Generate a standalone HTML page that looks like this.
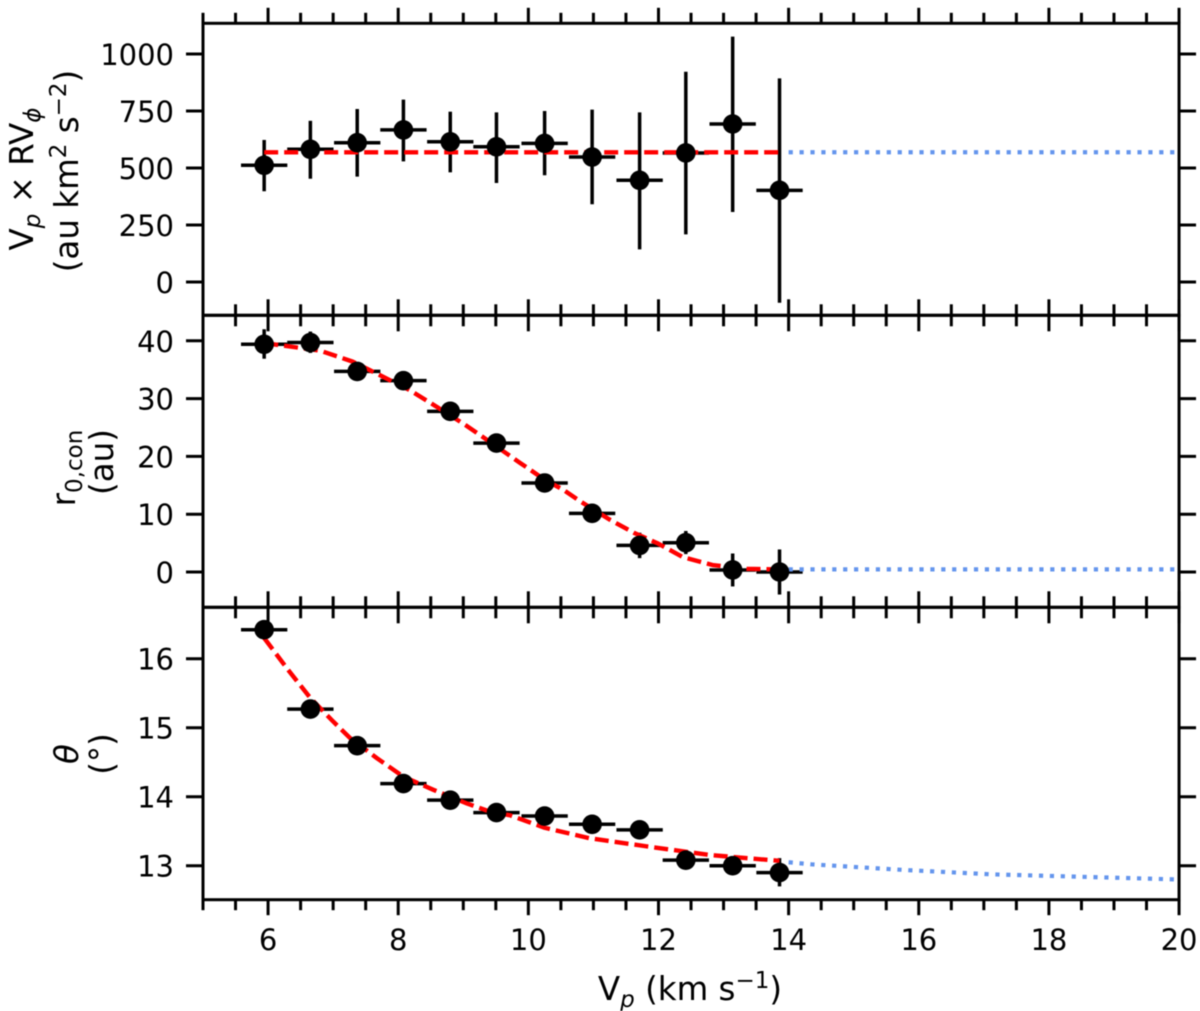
<!DOCTYPE html>
<html lang="en">
<head>
<meta charset="utf-8">
<title>Vp panels</title>
<style>
html,body{margin:0;padding:0;background:#fff;}
body{width:1200px;height:1011px;overflow:hidden;}
svg{display:block;font-family:"DejaVu Sans","Liberation Sans",sans-serif;fill:#000;filter:blur(0.55px);}
text{font-size:29px;}
.title{font-size:32.5px;}
</style>
</head>
<body>
<svg id="chart" width="1200" height="1011" viewBox="0 0 1200 1011" xmlns="http://www.w3.org/2000/svg">
  <g id="grid-layer"></g>
  <g id="marks-layer"></g>

  <text class="title" transform="translate(33,179) rotate(-90)" text-anchor="middle">V<tspan font-style="italic" font-size="23" dy="7">p</tspan><tspan dy="-7"> × RV</tspan><tspan font-style="italic" font-size="23" dy="7">ϕ</tspan></text>
  <text class="title" transform="translate(78,171) rotate(-90)" text-anchor="middle">(au km<tspan font-size="23" dy="-12">2</tspan><tspan dy="12"> s</tspan><tspan font-size="23" dy="-12">−2</tspan><tspan dy="12">)</tspan></text>
  <text class="title" transform="translate(75,468) rotate(-90)" text-anchor="middle">r<tspan font-size="23" dy="7">0,con</tspan></text>
  <text class="title" transform="translate(113,462) rotate(-90)" text-anchor="middle">(au)</text>
  <text class="title" transform="translate(78,754) rotate(-90)" text-anchor="middle" font-style="italic">θ</text>
  <text class="title" transform="translate(113,754) rotate(-90)" text-anchor="middle">(°)</text>
  <text class="title" x="690" y="1000" text-anchor="middle">V<tspan font-style="italic" font-size="23" dy="7">p</tspan><tspan dy="-7"> (km s</tspan><tspan font-size="23" dy="-12">−1</tspan><tspan dy="12">)</tspan></text>
</svg>

<script>
// Shared x positions of the measured points (km/s)
const vpPoints = [5.94, 6.65, 7.37, 8.08, 8.80, 9.51, 10.25, 10.98, 11.71, 12.42, 13.14, 13.86];
const vpHalfWidth = [0.356, 0.356, 0.356, 0.356, 0.356, 0.356, 0.356, 0.356, 0.356, 0.356, 0.356, 0.356];

// Top panel: Vp x RVphi
const topValues = [512, 582, 611, 667, 615, 593, 608, 548, 446, 566, 693, 402];
const topUpper  = [623, 707, 759, 800, 747, 744, 750, 756, 744, 922, 1076, 893];
const topLower  = [398, 453, 462, 529, 481, 434, 468, 341, 143, 209, 307, -91];
const topFitX   = [5.94, 13.86];
const topFitY   = [569, 569];
const topExtX   = [14.0, 20];
const topExtY   = [569, 569];
const topTicks  = [0, 250, 500, 750, 1000];

// Middle panel: r0,con
const midValues = [39.4, 39.7, 34.7, 33.1, 27.8, 22.3, 15.4, 10.15, 4.6, 5.07, 0.35, 0.0];
const midUpper  = [42.0, 41.6, 36.0, 34.3, 29.0, 23.5, 16.6, 11.3, 6.8, 7.1, 3.2, 3.9];
const midLower  = [36.9, 37.9, 33.4, 31.9, 26.6, 21.1, 14.2, 9.0, 2.4, 3.1, -2.5, -3.9];
const midFitX   = [5.94, 6.08, 6.80, 7.30, 7.71, 8.17, 8.59, 9.05, 9.41, 9.87, 10.26, 10.54, 10.80, 11.26, 11.62, 11.98, 12.37, 12.83, 13.36, 13.86];
const midFitY   = [39.4, 39.4, 38.3, 36.4, 34.1, 31.5, 28.6, 25.3, 22.5, 18.9, 15.9, 14.2, 12.2, 9.0, 6.8, 5.0, 2.6, 1.2, 0.55, 0.45];
const midExtX   = [14.0, 20];
const midExtY   = [0.45, 0.45];
const midTicks  = [0, 10, 20, 30, 40];

// Bottom panel: theta
const botValues = [16.42, 15.27, 14.74, 14.19, 13.95, 13.77, 13.72, 13.60, 13.52, 13.08, 13.00, 12.90];
const botUpper  = [16.52, 15.37, 14.84, 14.29, 14.05, 13.87, 13.82, 13.70, 13.62, 13.18, 13.10, 13.11];
const botLower  = [16.32, 15.17, 14.64, 14.09, 13.85, 13.67, 13.62, 13.50, 13.42, 12.98, 12.90, 12.70];
const botFitX   = [5.94, 6.29, 6.65, 7.00, 7.26, 7.67, 8.08, 8.54, 9.06, 9.42, 9.72, 10.25, 10.93, 11.82, 12.79, 13.86];
const botFitY   = [16.30, 15.86, 15.43, 15.09, 14.85, 14.56, 14.29, 14.10, 13.90, 13.78, 13.73, 13.55, 13.40, 13.28, 13.155, 13.07];
const botExtX   = [14.0, 14.35, 15.74, 17.12, 18.48, 20];
const botExtY   = [13.05, 13.02, 12.94, 12.875, 12.84, 12.80];
const botTicks  = [13, 14, 15, 16];

// Shared x axis ticks
const xMajorTicks = [6, 8, 10, 12, 14, 16, 18, 20];
const xMinorTicks = [5, 5.5, 6.5, 7, 7.5, 8.5, 9, 9.5, 10.5, 11, 11.5, 12.5, 13, 13.5, 14.5, 15, 15.5, 16.5, 17, 17.5, 18.5, 19, 19.5];

// Axis functions
function xAxis(v) { return 203 + (v - 5) * 65.07; }
function yTop(v) { return 282 - v * 0.228; }
function yMid(v) { return 572 - v * 5.78; }
function yBot(v) { return 865.7 - (v - 13) * 69; }

const NS = 'http://www.w3.org/2000/svg';
const frameLayer = document.getElementById('grid-layer');
const marksLayer = document.getElementById('marks-layer');

function shape(parent, tag, attrs, name) {
  const el = document.createElementNS(NS, tag);
  for (const k in attrs) el.setAttribute(k, attrs[k]);
  
  
  parent.appendChild(el);
  return el;
}

function seg(parent, x1, y1, x2, y2, w, name) {
  return shape(parent, 'line', { x1: x1, y1: y1, x2: x2, y2: y2, stroke: '#000', 'stroke-width': w }, name);
}

const TICK_W = 3;
const BAR_W = 3.5;
const LEFT = xAxis(5);
const RIGHT = xAxis(20);
const EDGE_TOP = 23.3;
const EDGE_A = 315.3;
const EDGE_B = 607.3;
const EDGE_C = 899.7;

function drawFrame(top, bottom, name) {
  shape(frameLayer, 'rect', { x: LEFT, y: top, width: RIGHT - LEFT, height: bottom - top, fill: 'none', stroke: '#000', 'stroke-width': 3 }, name);
}

function drawXTicks(y, above, below, label) {
  xMajorTicks.forEach(function (v) {
    seg(frameLayer, xAxis(v), y - above[0], xAxis(v), y + below[0], TICK_W, label + '-major-tick');
  });
  xMinorTicks.forEach(function (v) {
    seg(frameLayer, xAxis(v), y - above[1], xAxis(v), y + below[1], TICK_W, label + '-minor-tick');
  });
}

function drawYTicks(ticks, scale, label) {
  ticks.forEach(function (v) {
    const y = scale(v);
    seg(frameLayer, LEFT - 17, y, LEFT, y, TICK_W, label + '-left-tick');
    seg(frameLayer, RIGHT, y, RIGHT + 17, y, TICK_W, label + '-right-tick');
    const t = shape(frameLayer, 'text', { x: 174, y: y + 11, 'text-anchor': 'end' }, label + '-tick-label');
    t.textContent = String(v);
  });
}

function pathFrom(xs, ys, scale) {
  return xs.map(function (x, i) {
    return (i ? 'L' : 'M') + xAxis(x).toFixed(2) + ' ' + scale(ys[i]).toFixed(2);
  }).join(' ');
}

function drawPanel(values, upper, lower, fitX, fitY, extX, extY, scale, label) {
  vpPoints.forEach(function (x, i) {
    seg(marksLayer, xAxis(x), scale(upper[i]), xAxis(x), scale(lower[i]), BAR_W, label + '-y-error-bar');
    seg(marksLayer, xAxis(x - vpHalfWidth[i]), scale(values[i]), xAxis(x + vpHalfWidth[i]), scale(values[i]), BAR_W, label + '-x-error-bar');
  });
  shape(marksLayer, 'path', { d: pathFrom(extX, extY, scale), fill: 'none', stroke: '#6495ed', 'stroke-width': 4.2, 'stroke-dasharray': '4.2 6.7' }, label + '-extrapolation-line');
  shape(marksLayer, 'path', { d: pathFrom(fitX, fitY, scale), fill: 'none', stroke: '#ff0000', 'stroke-width': 4.4, 'stroke-dasharray': '14 6', 'stroke-linejoin': 'round' }, label + '-fit-line');
  vpPoints.forEach(function (x, i) {
    shape(marksLayer, 'circle', { cx: xAxis(x), cy: scale(values[i]), r: 9.8, fill: '#000' }, label + '-data-point');
  });
}

drawFrame(EDGE_TOP, EDGE_A, 'top-panel-frame');
drawFrame(EDGE_A, EDGE_B, 'middle-panel-frame');
drawFrame(EDGE_B, EDGE_C, 'bottom-panel-frame');

drawXTicks(EDGE_TOP, [15.5, 10.5], [0, 0], 'top-edge');
drawXTicks(EDGE_A, [16, 11], [16, 11], 'top-panel-bottom');
drawXTicks(EDGE_B, [16, 11], [16, 11], 'middle-panel-bottom');
drawXTicks(EDGE_C, [0, 0], [15.5, 10.5], 'bottom-edge');

xMajorTicks.forEach(function (v) {
  const t = shape(frameLayer, 'text', { x: xAxis(v), y: 950, 'text-anchor': 'middle' }, 'x-tick-label');
  t.textContent = String(v);
});

drawYTicks(topTicks, yTop, 'top-panel-y');
drawYTicks(midTicks, yMid, 'middle-panel-y');
drawYTicks(botTicks, yBot, 'bottom-panel-y');

drawPanel(topValues, topUpper, topLower, topFitX, topFitY, topExtX, topExtY, yTop, 'top-panel');
drawPanel(midValues, midUpper, midLower, midFitX, midFitY, midExtX, midExtY, yMid, 'middle-panel');
drawPanel(botValues, botUpper, botLower, botFitX, botFitY, botExtX, botExtY, yBot, 'bottom-panel');
</script>
</body>
</html>
